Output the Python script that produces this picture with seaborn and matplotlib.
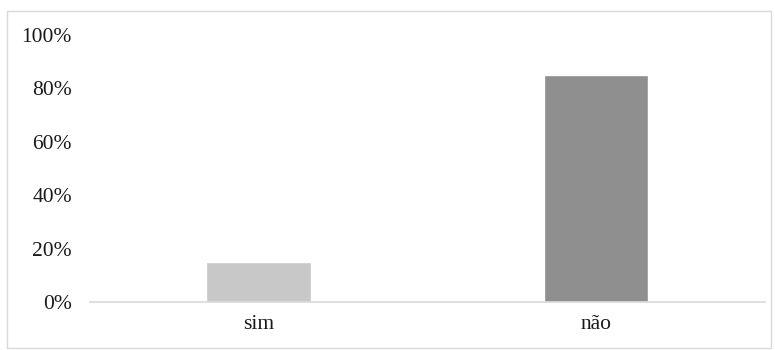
import matplotlib
matplotlib.use("Agg")
import matplotlib.pyplot as plt
import seaborn as sns
import pandas as pd
from matplotlib.patches import Rectangle
from matplotlib.ticker import PercentFormatter

# dados
categorias = ["sim", "não"]
valores = [15, 85]
cores = ["#c8c8c8", "#8f8f8f"]

sns.set_style("white")
plt.rcParams["font.family"] = ["Liberation Serif", "DejaVu Serif"]

df = pd.DataFrame({"resposta": categorias, "pct": valores})

fig = plt.figure(figsize=(7.75, 3.5), dpi=100)
ax = fig.add_axes([0.116, 0.137, 0.871, 0.763])

sns.barplot(data=df, x="resposta", y="pct", hue="resposta", palette=cores,
            width=0.31, legend=False, ax=ax, saturation=1)

ax.set_ylim(0, 100)
ax.set_yticks([0, 20, 40, 60, 80, 100])
ax.yaxis.set_major_formatter(PercentFormatter(decimals=0))
ax.set_xlabel("")
ax.set_ylabel("")
ax.tick_params(axis="both", length=0, labelsize=15.5, colors="#1a1a1a")
ax.tick_params(axis="y", pad=13)
ax.tick_params(axis="x", pad=9)

for s in ["top", "right", "left"]:
    ax.spines[s].set_visible(False)
ax.spines["bottom"].set_color("#d9d9d9")
ax.spines["bottom"].set_linewidth(1.2)

# moldura clara em volta da figura
fig.patches.append(Rectangle((0.009, 0.006), 0.986, 0.962, transform=fig.transFigure,
                             fill=False, edgecolor="#d9d9d9", linewidth=1.0))

plt.savefig("out.png", dpi=100)
